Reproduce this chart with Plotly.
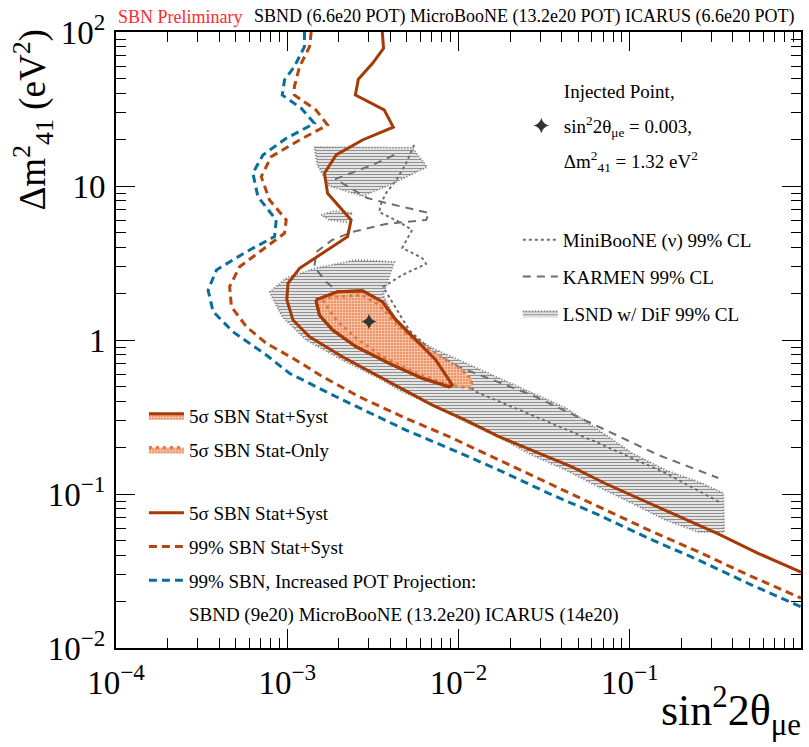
import plotly.graph_objects as go

# ---------------- data ----------------
x_tickvals = [1e-4, 1e-3, 1e-2, 1e-1, 1]
x_ticktext = ["10<sup>−4</sup>", "10<sup>−3</sup>", "10<sup>−2</sup>", "10<sup>−1</sup>", "1"]
y_tickvals = [1e-2, 1e-1, 1, 10, 100]
y_ticktext = ["10<sup>−2</sup>", "10<sup>−1</sup>", "1", "10", "10<sup>2</sup>"]

# 5 sigma SBN Stat+Syst sensitivity line
sbn5_x = [0.00359, 0.00365, 0.00315, 0.00260, 0.00250, 0.00368, 0.00416, 0.00275, 0.00193,
          0.00165, 0.00172, 0.00211, 0.00236, 0.00225, 0.00118, 0.00101, 0.000994, 0.00108,
          0.00135, 0.00210, 0.00450, 0.00704, 0.0110, 0.0172, 0.0294, 0.0460, 0.0720,
          0.1124, 0.1757, 0.2514, 0.3286, 0.562, 1.0]
sbn5_y = [100, 78.4, 62.6, 49.3, 39.0, 31.2, 24.1, 19.9, 15.9,
          12.1, 8.97, 6.99, 6.02, 4.69, 2.92, 2.33, 1.82, 1.35,
          1.05, 0.779, 0.497, 0.378, 0.302, 0.236, 0.184, 0.150, 0.117,
          0.0938, 0.0749, 0.0629, 0.0550, 0.0412, 0.0311]

# 99% SBN Stat+Syst sensitivity line
sbn99_x = [0.00138, 0.00135, 0.00118, 0.00110, 0.00110, 0.00147, 0.00172, 0.00118, 0.000806,
           0.000705, 0.000788, 0.000986, 0.000964, 0.000754, 0.000527, 0.000461, 0.000472,
           0.000577, 0.000754, 0.00108, 0.00161, 0.00263, 0.00493, 0.00881, 0.0172, 0.0336,
           0.0658, 0.1286, 0.2514, 0.491, 1.0]
sbn99_y = [100, 80.3, 59.5, 44.1, 39.0, 31.2, 24.9, 19.9, 15.5,
           11.5, 8.11, 6.02, 4.93, 4.03, 2.99, 2.22, 1.645,
           1.22, 0.952, 0.761, 0.578, 0.428, 0.310, 0.236, 0.166, 0.117,
           0.0827, 0.0584, 0.0422, 0.0298, 0.0211]

# 99% SBN, increased POT projection
proj_x = [0.00126, 0.00126, 0.00110, 0.000964, 0.000935, 0.00121, 0.00144, 0.000986, 0.000721,
          0.000630, 0.000674, 0.000862, 0.000843, 0.000577, 0.000386, 0.000345, 0.000369,
          0.000482, 0.000754, 0.00103, 0.00193, 0.00493, 0.00881, 0.0172, 0.0336, 0.0658,
          0.1286, 0.2514, 0.491, 1.0]
proj_y = [100, 80.3, 59.5, 48.8, 39.0, 31.9, 25.5, 20.4, 15.9,
          12.1, 8.52, 6.02, 4.69, 3.74, 2.85, 2.11, 1.53,
          1.13, 0.799, 0.608, 0.428, 0.260, 0.198, 0.143, 0.101, 0.0731,
          0.0516, 0.0373, 0.0263, 0.0185]

# 5 sigma SBN Stat+Syst allowed region around injected point
region_syst_x = [0.00147, 0.00197, 0.00275, 0.00360, 0.00431, 0.00563, 0.00737, 0.00920,
                 0.00881, 0.00615, 0.00394, 0.00252, 0.00184, 0.00154, 0.00147]
region_syst_y = [1.82, 2.06, 2.09, 1.77, 1.35, 1.0, 0.741, 0.510,
                 0.497, 0.564, 0.706, 0.905, 1.16, 1.45, 1.82]

# 5 sigma SBN Stat-only allowed region
region_stat_x = [0.00158, 0.00274, 0.00344, 0.00412, 0.00515, 0.00737, 0.01052, 0.0120,
                 0.0118, 0.00881, 0.00563, 0.00360, 0.00252, 0.00193, 0.00169, 0.00158]
region_stat_y = [1.87, 1.96, 1.69, 1.35, 1.05, 0.820, 0.639, 0.550,
                 0.486, 0.510, 0.608, 0.779, 1.03, 1.35, 1.69, 1.87]

# LSND w/ DiF 99% CL (three islands, separated by None)
lsnd_x = [0.00144, 0.00536, 0.00656, 0.00384, 0.00274, 0.00176, 0.00150, 0.00144, None,
          0.00158, 0.00188, 0.00240, 0.00221, 0.00176, 0.00158, None,
          0.000788, 0.000990, 0.00148, 0.00253, 0.00421, 0.00384, 0.00363, 0.00450, 0.00701,
          0.0120, 0.0172, 0.0268, 0.0423, 0.0658, 0.1024, 0.1615, 0.2514, 0.3514, 0.356,
          0.2514, 0.1615, 0.1024, 0.0658, 0.0423, 0.0268, 0.0172, 0.01106, 0.00701, 0.00450,
          0.00359, 0.00210, 0.00129, 0.000938, 0.000788]
lsnd_y = [17.9, 17.7, 13.3, 10.0, 8.61, 10.0, 13.7, 17.9, None,
          6.48, 6.88, 6.68, 5.84, 6.02, 6.48, None,
          2.05, 2.53, 2.93, 3.31, 3.21, 2.38, 1.96, 1.20, 0.887,
          0.678, 0.567, 0.453, 0.362, 0.260, 0.185, 0.143, 0.120, 0.1015, 0.0566,
          0.0566, 0.0678, 0.0874, 0.111, 0.143, 0.179, 0.234, 0.293, 0.378, 0.473,
          0.550, 0.741, 1.0, 1.41, 2.05]

# KARMEN 99% CL
karmen_x = [0.00421, 0.00314, 0.00191, 0.00293, 0.00378, 0.00673, 0.00647, 0.00378, 0.00240,
            0.00183, 0.00148, 0.00144, 0.00169, 0.00263, 0.00589, 0.01007, 0.0268, 0.0658,
            0.1471, 0.3286]
karmen_y = [15.9, 13.7, 11.1, 8.36, 7.76, 6.68, 6.02, 5.67, 5.03,
            4.46, 3.73, 2.98, 2.38, 1.57, 0.928, 0.668, 0.439, 0.272,
            0.179, 0.127]

# MiniBooNE (nu) 99% CL
miniboone_x = [0.00551, 0.00495, 0.00433, 0.00378, 0.00354, 0.00344, 0.00450, 0.00536, 0.00469,
               0.00613, 0.00647, 0.00469, 0.00363, 0.00515, 0.0126, 0.0268, 0.0658, 0.1615, 0.342]
miniboone_y = [18.5, 14.1, 10.9, 9.01, 7.76, 6.78, 5.84, 5.18, 3.96,
               3.41, 3.12, 2.64, 2.21, 1.16, 0.462, 0.326, 0.214, 0.137, 0.0874]

# Injected point
inj_x = [0.003]
inj_y = [1.32]

# ---------------- style ----------------
C_SOLID = "#A53A06"
C_DASH = "#B5460F"
C_BLUE = "#0A6E9C"
C_FILL = "#EE9467"
C_STAT = "#E07A48"
C_GRAY = "#6E6E6E"
FONT = "Liberation Serif, Times New Roman, DejaVu Serif, serif"

fig = go.Figure()

# LSND hatched region
fig.add_trace(go.Scatter(
    x=lsnd_x, y=lsnd_y, mode="lines", fill="toself",
    fillcolor="rgba(0,0,0,0)",
    fillpattern=dict(shape="-", fgcolor="#222222", bgcolor="rgba(255,255,255,0)", size=3, solidity=0.5),
    line=dict(color="#808080", width=2, dash="1px,2px"),
    name="LSND w/ DiF 99% CL", legend="legend2", legendgroup="lsnd", legendrank=3,
))
# KARMEN
fig.add_trace(go.Scatter(
    x=karmen_x, y=karmen_y, mode="lines",
    line=dict(color=C_GRAY, width=2, dash="8px,6px"),
    name="KARMEN 99% CL", legend="legend2", legendgroup="karmen", legendrank=2,
))
# MiniBooNE
fig.add_trace(go.Scatter(
    x=miniboone_x, y=miniboone_y, mode="lines",
    line=dict(color=C_GRAY, width=2, dash="3px,3px"),
    name="MiniBooNE (ν) 99% CL", legend="legend2", legendgroup="mb", legendrank=1,
))
# Projection (blue)
fig.add_trace(go.Scatter(
    x=proj_x, y=proj_y, mode="lines",
    line=dict(color=C_BLUE, width=3, dash="8px,5px"),
    name="99% SBN, Increased POT Projection:", legend="legend4", legendgroup="proj", legendrank=3,
))
# 99% Stat+Syst (orange dashed)
fig.add_trace(go.Scatter(
    x=sbn99_x, y=sbn99_y, mode="lines",
    line=dict(color=C_DASH, width=3, dash="8px,5px"),
    name="99% SBN Stat+Syst", legend="legend4", legendgroup="s99", legendrank=2,
))
# 5 sigma Stat+Syst line
fig.add_trace(go.Scatter(
    x=sbn5_x, y=sbn5_y, mode="lines",
    line=dict(color=C_SOLID, width=3),
    name="5σ SBN Stat+Syst", legend="legend4", legendgroup="s5", legendrank=1,
))
# second line of projection legend
fig.add_trace(go.Scatter(
    x=[None], y=[None], mode="markers", marker=dict(color="rgba(0,0,0,0)"),
    name="SBND (9e20) MicroBooNE (13.2e20) ICARUS (14e20)", legend="legend4",
    legendgroup="projtxt", legendrank=4, hoverinfo="skip",
))
# Stat+Syst region
fig.add_trace(go.Scatter(
    x=region_syst_x, y=region_syst_y, mode="lines", fill="toself",
    fillcolor=C_FILL,
    fillpattern=dict(shape="+", fgcolor="white", bgcolor=C_FILL, size=3, solidity=0.45),
    line=dict(color=C_SOLID, width=3),
    name="5σ SBN Stat+Syst", legend="legend3", legendgroup="r5", legendrank=1,
))
# Stat-only region
fig.add_trace(go.Scatter(
    x=region_stat_x, y=region_stat_y, mode="lines", fill="toself",
    fillcolor=C_FILL,
    fillpattern=dict(shape="+", fgcolor="white", bgcolor=C_FILL, size=3, solidity=0.45),
    line=dict(color=C_STAT, width=3, dash="3px,4px"),
    name="5σ SBN Stat-Only", legend="legend3", legendgroup="rs", legendrank=2,
))
# redraw syst border on top
fig.add_trace(go.Scatter(
    x=region_syst_x, y=region_syst_y, mode="lines",
    line=dict(color=C_SOLID, width=3), showlegend=False, hoverinfo="skip",
))
# Injected point legend lines + marker
fig.add_trace(go.Scatter(
    x=[None], y=[None], mode="markers", marker=dict(color="rgba(0,0,0,0)"),
    name="Injected Point,", legend="legend", legendgroup="i1", legendrank=1,
))
fig.add_trace(go.Scatter(
    x=inj_x, y=inj_y, mode="markers",
    marker=dict(symbol="star-diamond", size=11, color="#333333"),
    name="sin<sup>2</sup>2θ<sub>μe</sub> = 0.003,", legend="legend", legendgroup="i2", legendrank=2,
))
fig.add_trace(go.Scatter(
    x=[None], y=[None], mode="markers", marker=dict(color="rgba(0,0,0,0)"),
    name="Δm<sup>2</sup><sub>41</sub> = 1.32 eV<sup>2</sup>", legend="legend", legendgroup="i3", legendrank=3,
))

W, H = 809, 747
L, R, T, B = 116, 6, 32, 99
pw, ph = W - L - R, H - T - B


def px2paper(px, py):
    return (px - L) / pw, (H - B - py) / ph


leg_common = dict(font=dict(family=FONT, size=19, color="black"), bgcolor="rgba(0,0,0,0)",
                  borderwidth=0, traceorder="grouped", itemwidth=35, xanchor="left", yanchor="top")

lx_a, ly_a = px2paper(520, 72)
lx_b, ly_b = px2paper(519, 221)
lx_c, ly_c = px2paper(144, 397)
lx_d, ly_d = px2paper(144, 494)

minor_vals_x = [m * 10.0 ** e for e in range(-4, 0) for m in range(2, 10)]
minor_vals_y = [m * 10.0 ** e for e in range(-2, 2) for m in range(2, 10)]

axis_common = dict(type="log", showline=True, linecolor="black", linewidth=2, mirror="ticks",
                   ticks="inside", ticklen=19, tickwidth=1, tickcolor="black",
                   showgrid=False, zeroline=False,
                   tickfont=dict(family=FONT, size=33, color="black"))

fig.update_layout(
    width=W, height=H,
    margin=dict(l=L, r=R, t=T, b=B),
    paper_bgcolor="white", plot_bgcolor="white",
    xaxis=dict(range=[-4, 0], tickmode="array", tickvals=x_tickvals, ticktext=x_ticktext,
               minor=dict(tickmode="array", tickvals=minor_vals_x, ticks="inside", ticklen=10,
                          tickcolor="black", tickwidth=1, showgrid=False),
               ticklabelstandoff=4, **axis_common),
    yaxis=dict(range=[-2, 2], tickmode="array", tickvals=y_tickvals, ticktext=y_ticktext,
               minor=dict(tickmode="array", tickvals=minor_vals_y, ticks="inside", ticklen=10,
                          tickcolor="black", tickwidth=1, showgrid=False),
               ticklabelstandoff=2, **axis_common),
    legend=dict(x=lx_a, y=ly_a, tracegroupgap=7, **leg_common),
    legend2=dict(x=lx_b, y=ly_b, tracegroupgap=9, **leg_common),
    legend3=dict(x=lx_c, y=ly_c, tracegroupgap=6, **leg_common),
    legend4=dict(x=lx_d, y=ly_d, tracegroupgap=6, **leg_common),
    showlegend=True,
    font=dict(family=FONT, color="black"),
)

fig.add_annotation(text="SBN Preliminary", xref="paper", yref="paper", x=0.0, y=1.0,
                   xanchor="left", yanchor="bottom", yshift=3, showarrow=False,
                   font=dict(family=FONT, size=18, color="#FF2A2A"))
fig.add_annotation(text="SBND (6.6e20 POT) MicroBooNE (13.2e20 POT) ICARUS (6.6e20 POT)",
                   xref="paper", yref="paper", x=0.992, y=1.0,
                   xanchor="right", yanchor="bottom", yshift=3, showarrow=False,
                   font=dict(family=FONT, size=18, color="black"))
fig.add_annotation(text="sin<sup>2</sup>2θ<sub>μe</sub>", xref="paper", yref="paper", x=1.0, y=0.0,
                   xanchor="right", yanchor="top", yshift=-30, xshift=2, showarrow=False,
                   font=dict(family=FONT, size=44, color="black"))
fig.add_annotation(text="Δm<sup>2</sup><sub>41</sub> (eV<sup>2</sup>)", xref="paper", yref="paper",
                   x=0.0, y=1.0, xanchor="right", yanchor="top", xshift=-56, yshift=4,
                   textangle=-90, showarrow=False,
                   font=dict(family=FONT, size=37, color="black"))

fig.write_html("out.html")
